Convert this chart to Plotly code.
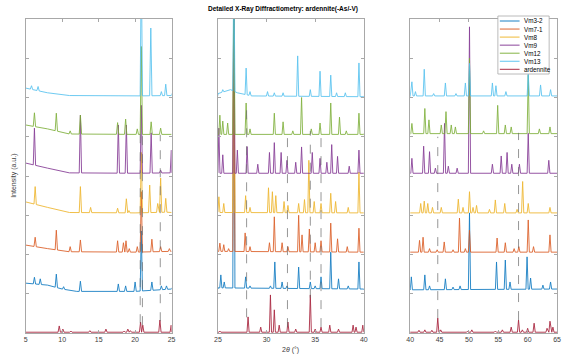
import numpy as np
import plotly.graph_objects as go

# ---------------- data ----------------
SERIES_NAMES = ["Vm3-2", "Vm7-1", "Vm8", "Vm9", "Vm12", "Vm13", "ardennite"]
SERIES_COLORS = ["#0072BD", "#D95319", "#EDB120", "#7E2F8E", "#77AC30", "#4DBEEE", "#A2142F"]

PANEL_RANGES = [(5, 25), (25, 40), (40, 65)]
PANEL1_TICKS = [5, 10, 15, 20, 25]
PANEL2_TICKS = [25, 30, 35, 40]
PANEL3_TICKS = [40, 45, 50, 55, 60, 65]

# baseline anchors (2theta, intensity with offset)
VM3_2_BASE = [(5, 1.27), (8, 1.22), (10, 1.12), (12, 1.06), (20, 1.06), (25, 1.12),
              (25.01, 1.15), (40, 1.12), (40.01, 1.1), (65, 1.12)]
VM7_1_BASE = [(5, 2.24), (8, 2.15), (11, 2.07), (20, 2.06), (25, 2.08),
              (25.01, 2.08), (40, 2.06), (40.01, 2.06), (65, 2.06)]
VM8_BASE = [(5, 3.34), (8, 3.2), (11, 3.07), (20, 3.06), (25, 3.08),
            (25.01, 3.07), (40, 3.06), (40.01, 3.06), (65, 3.06)]
VM9_BASE = [(5, 4.33), (8, 4.2), (11, 4.08), (20, 4.07), (25, 4.08),
            (25.01, 4.07), (40, 4.07), (40.01, 4.07), (65, 4.07)]
VM12_BASE = [(5, 5.30), (8, 5.2), (11, 5.07), (20, 5.06), (25, 5.06),
             (25.01, 5.06), (40, 5.06), (40.01, 5.08), (65, 5.08)]
VM13_BASE = [(5, 6.24), (8, 6.12), (11, 6.05), (20, 6.04), (25, 6.05),
             (25.01, 6.1), (26.3, 6.2), (27, 6.12), (28.5, 6.04), (40, 6.02),
             (40.01, 6.04), (65, 6.04)]
ARD_BASE = [(5, 0.02), (25, 0.02), (25.01, 0.02), (40, 0.02), (40.01, 0.02), (65, 0.02)]

# peaks (2theta, peak top)
VM3_2_PEAKS = [(6.2, 1.42), (7.0, 1.38), (9.2, 1.5), (10.2, 1.18), (12.5, 1.32), (17.7, 1.25),
               (18.7, 1.2), (20.0, 1.3), (20.85, 2.6), (22.3, 1.3), (23.6, 1.2), (24.3, 1.2),
               (25.3, 1.48), (25.65, 1.3), (26.64, 9.0), (27.85, 1.43), (28.3, 1.2), (30.4, 1.2),
               (30.85, 1.81), (31.6, 1.3), (32.1, 1.2), (33.3, 1.68), (34.5, 1.3), (35.0, 1.2),
               (35.6, 1.43), (36.6, 2.06), (37.4, 1.38), (38.4, 1.2), (39.5, 1.81),
               (40.2, 1.43), (42.5, 1.48), (43.3, 1.2), (46.0, 1.38), (47.3, 1.17), (48.5, 1.2),
               (50.1, 3.06), (54.7, 1.81), (56.2, 1.86), (57.0, 1.3), (59.9, 1.94), (60.5, 1.4),
               (62.6, 1.22), (63.9, 1.3)]
VM7_1_PEAKS = [(6.3, 2.44), (9.2, 2.62), (11.1, 2.2), (12.5, 2.37), (17.6, 2.35), (18.4, 2.3),
               (18.75, 2.35), (19.2, 2.15), (20.3, 2.2), (20.85, 3.6), (22.3, 2.39), (23.5, 2.2),
               (24.7, 2.15),
               (25.2, 2.29), (25.6, 2.25), (26.1, 2.15), (26.64, 9.0), (27.8, 2.55), (28.3, 2.2),
               (30.3, 2.3), (30.8, 2.96), (31.6, 2.3), (32.2, 2.2), (33.3, 3.0), (33.65, 2.5),
               (34.4, 2.65), (35.0, 2.3), (35.6, 2.35), (36.6, 2.8), (37.3, 2.4), (38.3, 2.2),
               (39.5, 2.67),
               (41.6, 2.36), (42.2, 2.44), (43.3, 2.15), (44.6, 2.12), (45.8, 2.32), (47.3, 2.12),
               (48.4, 2.93), (49.4, 2.15), (50.1, 2.62), (54.8, 2.42), (56.2, 2.3), (57.7, 2.15),
               (58.5, 2.2), (60.1, 2.88), (61.0, 2.2), (63.8, 2.5)]
VM8_PEAKS = [(6.3, 3.73), (12.5, 3.73), (13.9, 3.2), (17.6, 3.18), (18.8, 3.42), (19.15, 3.12),
             (20.85, 4.6), (22.0, 3.77), (23.1, 3.3), (23.5, 3.95), (24.2, 3.43),
             (25.1, 3.47), (25.6, 3.3), (26.64, 9.0), (27.85, 3.5), (28.3, 3.2), (30.2, 3.7),
             (30.6, 3.6), (30.95, 3.5), (31.8, 3.35), (32.2, 3.25), (33.3, 3.3), (33.9, 3.4),
             (34.35, 4.4), (34.9, 3.35), (35.6, 3.3), (36.6, 3.56), (37.1, 3.35), (38.4, 3.2),
             (39.5, 4.1),
             (41.8, 3.3), (42.4, 3.36), (43.0, 3.3), (43.8, 3.2), (45.3, 3.2), (48.2, 3.41),
             (49.0, 3.2), (50.1, 3.6), (50.7, 3.2), (51.3, 3.25), (53.5, 3.15), (54.5, 3.39),
             (56.1, 3.3), (58.2, 3.15), (59.15, 3.86), (60.1, 3.3), (63.8, 3.2)]
VM9_PEAKS = [(6.2, 5.22), (12.5, 5.55), (17.7, 5.3), (18.8, 5.3), (20.85, 5.8), (22.2, 5.1),
             (23.5, 4.15), (24.97, 4.66),
             (25.1, 5.22), (25.5, 4.54), (26.64, 9.0), (27.0, 4.66), (28.0, 4.75), (29.1, 4.3),
             (30.3, 4.6), (30.8, 4.85), (31.5, 4.6), (32.1, 4.4), (33.0, 4.35), (33.6, 4.74),
             (34.7, 4.6), (35.5, 4.45), (36.2, 4.35), (36.7, 4.8), (37.3, 4.5), (38.5, 4.25),
             (39.5, 4.66),
             (40.3, 4.45), (42.3, 4.76), (43.3, 4.62), (44.3, 4.2), (45.85, 5.34), (46.5, 4.25),
             (48.0, 4.2), (50.1, 7.8), (54.0, 4.3), (55.5, 4.51), (56.5, 4.6), (57.3, 4.3),
             (58.6, 4.3), (60.1, 5.09), (63.6, 4.4)]
VM12_PEAKS = [(6.2, 5.61), (9.2, 5.6), (11.1, 5.15), (12.5, 5.55), (17.6, 5.36), (18.7, 5.45),
              (20.3, 5.2), (20.85, 7.3), (22.2, 5.38), (23.5, 5.22),
              (25.2, 5.55), (25.5, 5.4), (26.0, 5.35), (26.64, 9.0), (27.9, 5.86), (28.3, 5.2),
              (30.8, 5.6), (31.7, 5.38), (32.7, 5.15), (33.6, 6.0), (34.6, 5.2), (35.5, 5.35),
              (36.6, 5.86), (37.5, 5.5), (38.2, 5.15), (39.5, 5.6),
              (40.3, 5.34), (42.5, 5.72), (43.2, 5.43), (45.3, 5.3), (46.1, 5.64), (47.0, 5.3),
              (47.7, 5.25), (50.1, 7.0), (52.5, 5.15), (54.9, 5.8), (56.2, 5.3), (57.2, 5.25),
              (60.1, 6.57), (62.0, 5.2), (63.8, 5.25)]
VM13_PEAKS = [(5.8, 6.3), (6.7, 6.28), (20.85, 9.5), (22.15, 7.77), (23.6, 6.15), (24.2, 6.34),
              (25.5, 6.2), (26.64, 9.5), (27.9, 6.75), (28.3, 6.15), (30.1, 6.15), (30.8, 6.12),
              (31.7, 6.12), (33.2, 7.06), (34.5, 6.2), (35.5, 6.67), (36.6, 6.57), (37.2, 6.12),
              (38.1, 6.12), (39.5, 6.88),
              (40.3, 6.4), (40.9, 6.15), (42.4, 6.72), (44.0, 6.1), (46.0, 6.37), (47.8, 6.1),
              (49.4, 6.37), (50.1, 6.87), (54.0, 6.37), (54.6, 6.3), (56.3, 6.15), (60.1, 6.6),
              (62.2, 6.32), (63.9, 6.2)]
ARD_PEAKS = [(9.6, 0.18), (10.1, 0.1), (11.2, 0.05), (13.8, 0.06), (16.0, 0.1), (18.5, 0.05),
             (19.0, 0.1), (19.35, 0.06), (20.75, 0.28), (21.05, 0.2), (23.4, 0.33), (24.95, 0.2),
             (25.2, 0.05), (28.1, 0.41), (29.4, 0.15), (30.4, 0.97), (30.8, 0.59), (31.3, 0.2),
             (32.2, 0.28), (33.0, 0.1), (34.5, 0.97), (35.0, 0.1), (35.6, 0.15), (36.5, 0.2),
             (37.4, 0.1), (38.9, 0.2), (39.2, 0.15), (39.9, 0.2),
             (41.5, 0.07), (42.5, 0.08), (43.7, 0.07), (44.7, 0.38), (45.2, 0.08), (49.8, 0.05),
             (50.5, 0.08), (54.5, 0.05), (55.7, 0.08), (57.2, 0.15), (58.45, 0.33), (59.1, 0.08),
             (60.0, 0.12), (61.1, 0.25), (63.3, 0.12), (63.8, 0.3), (64.3, 0.15)]

# reference-line positions (dashed) and their extent
DASH_X = [20.7, 21.0, 23.45, 27.95, 32.15, 34.5, 35.6, 44.7, 58.45]
DASH_BOTTOM = [0.25, 0.2, 0.3, 0.4, 0.15, 0.9, 0.15, 0.38, 0.33]
DASH_TOP = [5.1, 5.1, 5.05, 5.85, 5.05, 5.15, 5.2, 5.0, 5.1]

BASES = [VM3_2_BASE, VM7_1_BASE, VM8_BASE, VM9_BASE, VM12_BASE, VM13_BASE, ARD_BASE]
PEAKS = [VM3_2_PEAKS, VM7_1_PEAKS, VM8_PEAKS, VM9_PEAKS, VM12_PEAKS, VM13_PEAKS, ARD_PEAKS]

# ---------------- figure ----------------
W, H = 563, 358
HALF_WIDTH = [0.16, 0.11, 0.19]  # peak half-width per panel (degrees)
PANEL_PX = [(22, 170), (217, 365), (412, 561)]
Y_PX = (19, 333)


def polyline(base, peaks, lo, hi, hw):
    bx = np.array([p[0] for p in base if lo - 0.02 <= p[0] <= hi + 0.02])
    by = np.array([p[1] for p in base if lo - 0.02 <= p[0] <= hi + 0.02])
    pk = [p for p in peaks if lo <= p[0] <= hi]
    pts = []
    for x, y in zip(bx, by):
        if all(abs(x - p[0]) > hw for p in pk):
            pts.append((x, y))
    for x, top in pk:
        for fx in (x - hw, x + hw):
            fx = min(max(fx, lo), hi)
            pts.append((fx, float(np.interp(fx, bx, by))))
        pts.append((x, top))
    pts.sort(key=lambda p: p[0])
    return [p[0] for p in pts], [p[1] for p in pts]


fig = go.Figure()
for k, (lo, hi) in enumerate(PANEL_RANGES):
    xa = "x" if k == 0 else f"x{k+1}"
    ya = "y" if k == 0 else f"y{k+1}"
    for name, color, base, peaks in zip(SERIES_NAMES, SERIES_COLORS, BASES, PEAKS):
        xs, ys = polyline(base, peaks, lo, hi, HALF_WIDTH[k])
        fig.add_trace(go.Scatter(x=xs, y=ys, mode="lines", name=name, legendgroup=name,
                                 showlegend=False, xaxis=xa, yaxis=ya, opacity=0.9,
                                 line=dict(color=color, width=0.9)))
    for dx, db, dt in zip(DASH_X, DASH_BOTTOM, DASH_TOP):
        if lo <= dx <= hi:
            fig.add_trace(go.Scatter(x=[dx, dx], y=[db, dt], mode="lines", showlegend=False,
                                     xaxis=xa, yaxis=ya, hoverinfo="skip",
                                     line=dict(color="#6a6a6a", width=0.7, dash="dash")))

axis_common = dict(showline=True, linecolor="#a8a8a8", linewidth=1, mirror="ticks",
                   ticks="inside", ticklen=3, tickcolor="#a8a8a8", showgrid=False,
                   zeroline=False)
ticklists = [PANEL1_TICKS, PANEL2_TICKS, PANEL3_TICKS]
y0, y1 = 1 - Y_PX[1] / H, 1 - Y_PX[0] / H
layout = dict(width=W, height=H, margin=dict(l=0, r=0, t=0, b=0),
              paper_bgcolor="white", plot_bgcolor="white", showlegend=False,
              font=dict(family="Liberation Sans, Arial, sans-serif", size=7, color="#404040"))
for k, (lo, hi) in enumerate(PANEL_RANGES):
    sx = "" if k == 0 else str(k + 1)
    layout[f"xaxis{sx}"] = dict(axis_common, domain=[PANEL_PX[k][0] / W, PANEL_PX[k][1] / W],
                                range=[lo, hi], tickvals=ticklists[k],
                                ticktext=[str(t) for t in ticklists[k]],
                                tickfont=dict(size=7, color="#404040"),
                                anchor="y" if k == 0 else f"y{k+1}")
    layout[f"yaxis{sx}"] = dict(axis_common, domain=[y0, y1], range=[0, 8], dtick=1,
                                showticklabels=False,
                                anchor="x" if k == 0 else f"x{k+1}")
fig.update_layout(**layout)

ann = [
    dict(text="<b>Detailed X-Ray Diffractiometry: ardennite(-As/-V)</b>", x=283 / W, y=1 - 9 / H,
         xref="paper", yref="paper", showarrow=False, xanchor="center", yanchor="middle",
         font=dict(size=6.5, color="#000000")),
    dict(text="Intensity (a.u.)", x=10 / W, y=1 - 176 / H, xref="paper", yref="paper",
         showarrow=False, textangle=-90, xanchor="center", yanchor="middle",
         font=dict(size=7, color="#404040")),
    dict(text="2<i>θ</i> (°)", x=291 / W, y=1 - 350 / H, xref="paper", yref="paper",
         showarrow=False, xanchor="center", yanchor="middle", font=dict(size=7, color="#404040")),
]
shapes = [dict(type="rect", xref="paper", yref="paper", x0=501 / W, x1=553 / W,
               y0=1 - 74 / H, y1=1 - 16 / H, line=dict(color="#a8a8a8", width=0.8),
               fillcolor="white", layer="above")]
for i, (name, color) in enumerate(zip(SERIES_NAMES, SERIES_COLORS)):
    yc = 1 - (21 + 8.05 * i) / H
    shapes.append(dict(type="line", xref="paper", yref="paper", x0=503 / W, x1=523 / W,
                       y0=yc, y1=yc, line=dict(color=color, width=0.9), layer="above"))
    ann.append(dict(text=name, x=525 / W, y=yc, xref="paper", yref="paper", showarrow=False,
                    xanchor="left", yanchor="middle", font=dict(size=6.3, color="#000000")))
fig.update_layout(annotations=ann, shapes=shapes)

fig.write_html("out.html", config={"displayModeBar": False},
               post_script="document.body.style.margin='0';")
